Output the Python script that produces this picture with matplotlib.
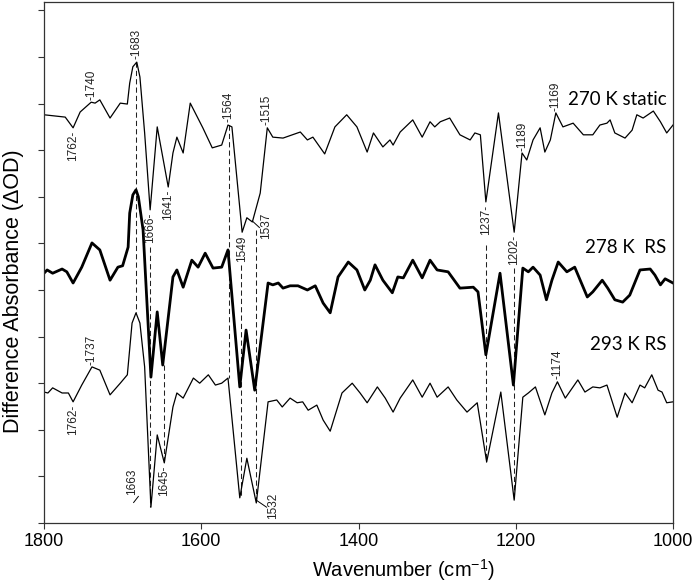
import numpy as np
import matplotlib
matplotlib.use("Agg")
import matplotlib.pyplot as plt

plt.rcParams['font.family'] = ['Liberation Sans', 'DejaVu Sans']
plt.rcParams['mathtext.fontset'] = 'custom'
plt.rcParams['mathtext.rm'] = 'Liberation Sans'

# 270 K static (thin, top)
wn_270 = [1800, 1773, 1763, 1754, 1748, 1740, 1735, 1729, 1716, 1703, 1694, 1691,
          1687, 1682, 1678, 1672, 1665, 1656, 1642, 1636, 1631, 1623, 1614, 1598,
          1586, 1574, 1566, 1561, 1548, 1542, 1535, 1525, 1516, 1509, 1496, 1474,
          1465, 1458, 1443, 1430, 1415, 1402, 1389, 1381, 1369, 1360, 1356, 1347,
          1331, 1319, 1309, 1303, 1296, 1284, 1271, 1258, 1252, 1245, 1238, 1222,
          1202, 1192, 1186, 1178, 1169, 1163, 1156, 1149, 1140, 1127, 1114, 1102,
          1093, 1084, 1080, 1074, 1061, 1052, 1046, 1038, 1025, 1016, 1008, 1000]
od_270 = [8.76, 8.71, 8.48, 8.82, 8.91, 9.03, 9.01, 9.08, 8.69, 9.01, 8.99, 9.44,
          9.79, 9.89, 9.57, 8.37, 6.72, 8.50, 7.21, 7.94, 8.28, 7.94, 9.01, 8.48,
          8.05, 8.11, 8.54, 8.50, 6.24, 6.55, 6.46, 7.08, 8.48, 8.28, 8.26, 8.39,
          8.22, 8.28, 7.92, 8.50, 8.76, 8.50, 7.96, 8.37, 8.07, 8.22, 8.11, 8.39,
          8.65, 8.28, 8.61, 8.50, 8.61, 8.69, 8.33, 8.22, 8.37, 8.33, 6.89, 8.80,
          6.24, 7.94, 7.79, 8.22, 8.48, 7.96, 8.22, 8.80, 8.50, 8.58, 8.33, 8.33,
          8.54, 8.58, 8.65, 8.37, 8.26, 8.43, 8.76, 8.69, 8.84, 8.61, 8.37, 8.54]

# 278 K RS (bold, middle)
wn_278 = [1800, 1796, 1789, 1777, 1771, 1763, 1752, 1739, 1729, 1716, 1706, 1700,
          1693, 1691, 1687, 1683, 1680, 1674, 1664, 1656, 1649, 1636, 1631, 1623,
          1612, 1604, 1595, 1585, 1574, 1566, 1551, 1543, 1532, 1515, 1509, 1502,
          1496, 1487, 1477, 1465, 1455, 1445, 1436, 1426, 1413, 1402, 1392, 1385,
          1379, 1369, 1357, 1350, 1343, 1331, 1319, 1309, 1300, 1286, 1271, 1254,
          1248, 1238, 1220, 1203, 1191, 1184, 1178, 1169, 1161, 1154, 1146, 1135,
          1125, 1118, 1109, 1102, 1090, 1083, 1074, 1064, 1055, 1042, 1029, 1023,
          1016, 1010, 1000]
od_278 = [5.36, 5.43, 5.36, 5.45, 5.39, 5.15, 5.49, 6.01, 5.86, 5.21, 5.49, 5.52,
          5.92, 6.65, 7.04, 7.15, 7.00, 6.29, 3.13, 4.53, 3.39, 5.28, 5.43, 5.06,
          5.64, 5.49, 5.79, 5.47, 5.49, 5.86, 2.92, 4.14, 2.85, 5.15, 5.11, 5.15,
          5.04, 5.09, 5.09, 5.00, 5.09, 4.72, 4.51, 5.28, 5.60, 5.43, 5.00, 5.21,
          5.54, 5.21, 4.94, 5.28, 5.26, 5.64, 5.26, 5.64, 5.43, 5.39, 5.04, 5.06,
          4.96, 3.61, 5.36, 2.96, 5.47, 5.39, 5.49, 5.32, 4.79, 5.21, 5.60, 5.39,
          5.49, 5.21, 4.85, 4.96, 5.21, 5.04, 4.79, 4.74, 4.89, 5.43, 5.45, 5.32,
          5.11, 5.24, 5.15]

# 293 K RS (thin, bottom)
wn_293 = [1800, 1795, 1789, 1777, 1769, 1763, 1752, 1739, 1729, 1716, 1703, 1694,
          1688, 1683, 1678, 1672, 1664, 1656, 1647, 1636, 1631, 1623, 1610, 1602,
          1591, 1582, 1574, 1566, 1551, 1542, 1530, 1515, 1504, 1497, 1487, 1478,
          1471, 1464, 1453, 1445, 1436, 1421, 1408, 1398, 1389, 1376, 1366, 1356,
          1347, 1331, 1319, 1309, 1300, 1286, 1275, 1262, 1249, 1237, 1219, 1202,
          1191, 1184, 1175, 1163, 1154, 1147, 1137, 1121, 1112, 1102, 1093, 1084,
          1071, 1061, 1052, 1042, 1036, 1027, 1019, 1014, 1008, 1000]
od_293 = [2.81, 2.79, 2.90, 2.79, 2.79, 2.60, 2.96, 3.35, 3.28, 2.75, 3.00, 3.18,
          4.29, 4.51, 4.29, 3.35, 0.34, 1.89, 1.29, 2.49, 2.79, 2.68, 3.11, 3.00,
          3.18, 2.96, 3.00, 3.11, 0.54, 1.39, 0.43, 2.60, 2.64, 2.49, 2.68, 2.58,
          2.60, 2.42, 2.53, 2.21, 1.97, 2.79, 3.00, 2.79, 2.58, 2.92, 2.68, 2.38,
          2.68, 3.07, 2.70, 3.00, 2.70, 2.92, 2.64, 2.38, 2.58, 1.31, 2.81, 0.49,
          2.70, 2.79, 2.92, 2.32, 2.79, 3.03, 2.68, 3.07, 2.81, 2.92, 2.90, 2.96,
          2.27, 2.79, 2.58, 2.96, 2.90, 3.18, 2.85, 2.81, 2.58, 2.60]

# peak labels: text, position, anchor level, above/below
peak_text = ["-1740", "-1683", "-1564", "-1515", "-1189", "-1169",
             "1762-", "1666-", "1641-", "1549", "1237-", "1202-",
             "-1737", "-1174", "1762-", "1645-"]
peak_wn = [1740, 1682, 1565, 1517, 1191, 1149,
           1763, 1665, 1642, 1548, 1238, 1202,
           1740, 1147, 1763, 1647]
peak_od = [9.05, 9.92, 8.58, 8.50, 7.96, 8.82,
           8.45, 6.70, 7.18, 6.20, 6.86, 6.22,
           3.37, 3.05, 2.57, 1.26]
peak_up = [True] * 6 + [False] * 6 + [True, True, False, False]

# labels with a short leader line
lead_text = ["1537", "1663", "1532"]
lead_wn = [1517, 1688, 1509]
lead_od = [6.67, 0.60, 0.64]
lead_from = [(1535, 6.48), (1686, 0.44), (1530, 0.49)]
lead_to = [(1526, 6.34), (1680, 0.57), (1517, 0.34)]

# dashed guide lines
guide_wn = [1683, 1665, 1647, 1565, 1549, 1531, 1238, 1202]
guide_top = [9.89, 5.92, 3.39, 8.54, 5.54, 6.29, 5.97, 5.47]
guide_bot = [4.51, 0.34, 1.29, 3.11, 0.54, 0.43, 1.31, 0.49]

trace_names = ["270 K static", "278 K  RS", "293 K RS"]
trace_name_wn = [1133, 1112, 1105]
trace_name_od = [9.08, 5.92, 3.82]

fig = plt.figure(figsize=(7, 5.86), dpi=100)
ax = fig.add_axes([44 / 700, 1 - 523 / 586, 629 / 700, 521 / 586])

for x, y0, y1 in zip(guide_wn, guide_top, guide_bot):
    ax.plot([x, x], [y0, y1], color='#222222', lw=0.75, dashes=(5, 3))

ax.plot(wn_270, od_270, color='black', lw=0.9)
ax.plot(wn_278, od_278, color='black', lw=2.0)
ax.plot(wn_293, od_293, color='black', lw=0.9)

for t, x, y, up in zip(peak_text, peak_wn, peak_od, peak_up):
    ax.text(x, y + (0.03 if up else -0.03), t, rotation=90, ha='center',
            va='bottom' if up else 'top', fontsize=8.5, color='#222222')

for t, x, y, p0, p1 in zip(lead_text, lead_wn, lead_od, lead_from, lead_to):
    ax.plot([p0[0], p1[0]], [p0[1], p1[1]], color='black', lw=0.7)
    ax.text(x, y, t, rotation=90, ha='center', va='top' if y > 0.62 else 'bottom',
            fontsize=8.5, color='#222222')

for t, x, y in zip(trace_names, trace_name_wn, trace_name_od):
    ax.text(x, y, t, ha='left', va='center', fontsize=13.5,
            family=['Lato', 'DejaVu Sans'], color='black')

ax.set_xlim(1800, 1000)
ax.set_ylim(0, 11.18)
ax.set_xticks([1800, 1600, 1400, 1200, 1000])
ax.set_yticks(range(12))
ax.set_yticklabels([])
ax.tick_params(direction='out', length=4, width=0.8, colors='#333333',
               labelsize=13, labelcolor='black')
for s in ax.spines.values():
    s.set_color('#333333')
    s.set_linewidth(0.9)

ax.set_xlabel('Wavenumber (cm$^{-1}$)', fontsize=14.5)
ax.set_ylabel('Difference Absorbance (\u0394OD)', fontsize=15.5)
ax.xaxis.set_label_coords(0.571, -0.066)
ax.yaxis.set_label_coords(-0.032, 0.445)

fig.savefig('out.png', dpi=100)
